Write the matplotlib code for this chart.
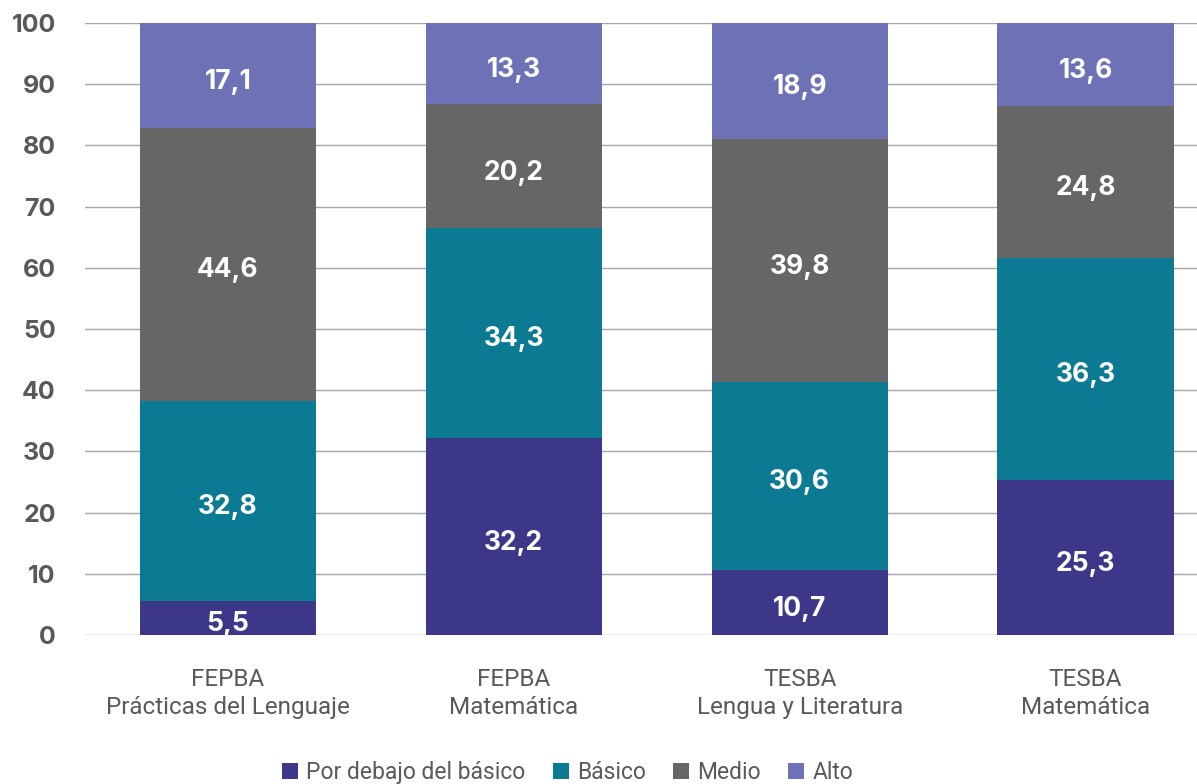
import numpy as np
import matplotlib.pyplot as plt

categories = ["FEPBA\nPrácticas del Lenguaje", "FEPBA\nMatemática",
              "TESBA\nLengua y Literatura", "TESBA\nMatemática"]
series_names = ["Por debajo del básico", "Básico", "Medio", "Alto"]
por_debajo = [5.5, 32.2, 10.7, 25.3]
basico = [32.8, 34.3, 30.6, 36.3]
medio = [44.6, 20.2, 39.8, 24.8]
alto = [17.1, 13.3, 18.9, 13.6]
yticks = [0, 10, 20, 30, 40, 50, 60, 70, 80, 90, 100]

colors = ["#3d3789", "#0b7a92", "#666666", "#6c72b5"]
txt_gray = "#595959"

fig = plt.figure(figsize=(11.97, 7.84), dpi=100)
ax = fig.add_axes([0.071, 0.19, 0.929, 0.7806])

x = np.arange(len(categories))
bottom = np.zeros(len(categories))
for name, vals, c in zip(series_names, [por_debajo, basico, medio, alto], colors):
    vals = np.array(vals)
    ax.bar(x, vals, bottom=bottom, width=0.616, color=c, label=name, zorder=3)
    for xi, b, v in zip(x, bottom, vals):
        ax.annotate(f"{v:.1f}".replace(".", ","), (xi, b + v / 2), xytext=(0, -4.5),
                    textcoords="offset points", ha="center", va="center",
                    color="white", fontsize=19, fontweight="bold", family="Inter", zorder=4)
    bottom += vals

ax.set_xlim(-0.5, 3.39)
ax.set_ylim(0, 100)
ax.set_yticks(yticks)
ax.set_yticklabels([str(t) for t in yticks], fontsize=18, fontweight="bold",
                   color=txt_gray, family="Inter")
ax.tick_params(axis="y", length=0, pad=21)
ax.set_xticks(x)
ax.set_xticklabels(categories, fontsize=17.5, color=txt_gray, family="Roboto",
                   linespacing=1.25)
ax.tick_params(axis="x", length=0, pad=24)
ax.grid(axis="y", color="#a6a6a6", linewidth=1, zorder=0)
for s in ax.spines.values():
    s.set_visible(False)

leg = fig.legend(loc="center", bbox_to_anchor=(0.474, 0.015), ncol=4, frameon=False,
                 handlelength=0.7, handleheight=0.7, handletextpad=0.35, columnspacing=1.2,
                 prop={"family": "Roboto", "size": 16.5})
for t in leg.get_texts():
    t.set_color(txt_gray)

fig.savefig("out.png", dpi=100)
